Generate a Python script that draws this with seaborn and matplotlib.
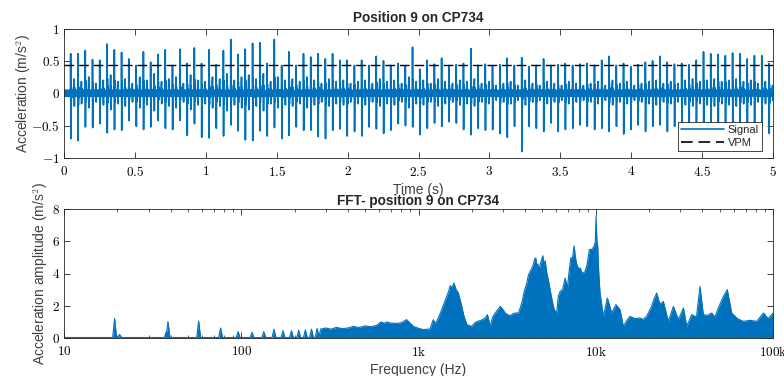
import numpy as np
import pandas as pd
import seaborn as sns
import matplotlib
matplotlib.use("Agg")
import matplotlib.pyplot as plt
from matplotlib.ticker import FuncFormatter, LogLocator, NullFormatter

# ---------------- data ----------------
spike_t = [0.047, 0.098, 0.150, 0.201, 0.252, 0.304, 0.355, 0.406, 0.457, 0.509,
           0.560, 0.611, 0.663, 0.714, 0.765, 0.817, 0.868, 0.919, 0.970, 1.022,
           1.073, 1.124, 1.176, 1.227, 1.278, 1.330, 1.381, 1.432, 1.483, 1.535,
           1.586, 1.637, 1.689, 1.740, 1.791, 1.843, 1.894, 1.945, 1.996, 2.048,
           2.099, 2.150, 2.202, 2.253, 2.304, 2.356, 2.407, 2.458, 2.509, 2.561,
           2.612, 2.663, 2.715, 2.766, 2.817, 2.869, 2.920, 2.971, 3.022, 3.074,
           3.125, 3.176, 3.228, 3.279, 3.330, 3.382, 3.433, 3.484, 3.535, 3.587,
           3.638, 3.689, 3.741, 3.792, 3.843, 3.895, 3.946, 3.997, 4.048, 4.100,
           4.151, 4.202, 4.254, 4.305, 4.356, 4.408, 4.459, 4.510, 4.561, 4.613,
           4.664, 4.715, 4.767, 4.818, 4.869, 4.921, 4.972]
spike_pos = [0.61, 0.61, 0.66, 0.52, 0.51, 0.76, 0.67, 0.63, 0.53, 0.43,
             0.64, 0.48, 0.60, 0.67, 0.43, 0.68, 0.46, 0.70, 0.46, 0.67,
             0.44, 0.66, 0.83, 0.60, 0.68, 0.77, 0.78, 0.46, 0.83, 0.43,
             0.64, 0.43, 0.61, 0.56, 0.61, 0.53, 0.61, 0.51, 0.51, 0.43,
             0.51, 0.43, 0.57, 0.50, 0.43, 0.46, 0.43, 0.71, 0.37, 0.51,
             0.45, 0.54, 0.43, 0.44, 0.46, 0.69, 0.43, 0.45, 0.43, 0.44,
             0.54, 0.43, 0.55, 0.41, 0.43, 0.53, 0.43, 0.44, 0.46, 0.43,
             0.45, 0.46, 0.43, 0.51, 0.57, 0.43, 0.46, 0.41, 0.44, 0.48,
             0.50, 0.57, 0.48, 0.45, 0.46, 0.44, 0.51, 0.64, 0.61, 0.60,
             0.58, 0.62, 0.61, 0.53, 0.58, 0.58, 0.46]
spike_neg = [0.70, 0.73, 0.52, 0.53, 0.47, 0.61, 0.56, 0.57, 0.42, 0.51,
             0.56, 0.52, 0.42, 0.54, 0.56, 0.42, 0.65, 0.47, 0.68, 0.69,
             0.54, 0.66, 0.49, 0.58, 0.72, 0.73, 0.58, 0.66, 0.53, 0.70,
             0.65, 0.52, 0.57, 0.57, 0.67, 0.70, 0.57, 0.55, 0.66, 0.59,
             0.66, 0.52, 0.55, 0.62, 0.57, 0.47, 0.50, 0.52, 0.64, 0.54,
             0.46, 0.51, 0.44, 0.46, 0.56, 0.64, 0.54, 0.57, 0.56, 0.62,
             0.68, 0.51, 0.90, 0.51, 0.54, 0.59, 0.46, 0.59, 0.56, 0.54,
             0.49, 0.51, 0.56, 0.54, 0.59, 0.51, 0.63, 0.56, 0.49, 0.59,
             0.51, 0.49, 0.59, 0.51, 0.46, 0.54, 0.51, 0.49, 0.54, 0.51,
             0.56, 0.54, 0.59, 0.54, 0.59, 0.50, 0.62]
mid_burst = [0.22, 0.18, 0.25, 0.15, 0.20, 0.28, 0.18, 0.22, 0.15, 0.25,
             0.20, 0.30, 0.18, 0.22, 0.25, 0.15, 0.28, 0.20, 0.18, 0.25,
             0.22, 0.30, 0.20, 0.25, 0.28, 0.22, 0.30, 0.18, 0.25, 0.20,
             0.22, 0.18, 0.25, 0.20, 0.15, 0.22, 0.18, 0.20, 0.15, 0.18,
             0.20, 0.15, 0.22, 0.18, 0.20, 0.15, 0.25, 0.18, 0.20, 0.15,
             0.22, 0.18, 0.15, 0.20, 0.18, 0.22, 0.15, 0.18, 0.12, 0.15,
             0.18, 0.12, 0.20, 0.15, 0.12, 0.18, 0.15, 0.12, 0.18, 0.15,
             0.12, 0.15, 0.18, 0.12, 0.20, 0.15, 0.18, 0.12, 0.15, 0.18,
             0.20, 0.15, 0.18, 0.15, 0.20, 0.22, 0.18, 0.20, 0.22, 0.18,
             0.20, 0.22, 0.18, 0.20, 0.15, 0.18, 0.12]
ripple = [0.04, -0.05, 0.045, -0.035, 0.05, -0.045, 0.035, -0.04, 0.05, -0.05, 0.04, -0.035]
ring_shape = [0.30, -0.25, 0.15, -0.10]
vpm_level = 0.43

harm_f = [19.3, 20.6, 37.8, 38.6, 57.5, 76.5, 96, 115, 134, 153, 172, 192, 211, 230, 249, 268]
harm_a = [1.22, 0.22, 0.40, 1.02, 1.05, 0.62, 0.40, 0.35, 0.40, 0.55, 0.45, 0.45, 0.48, 0.50, 0.55, 0.60]
env_f = [280, 300, 320, 345, 370, 400, 430, 460, 500, 540, 580, 614, 640, 665, 690, 753, 800, 857, 900, 935,
         1000, 1064, 1161, 1212, 1240, 1265, 1300, 1352, 1400, 1444, 1480, 1508, 1545, 1585, 1630, 1679, 1715,
         1754, 1800, 1874, 2000, 2080, 2153, 2260, 2378, 2450, 2537, 2620, 2707, 2800, 2890, 2980, 3084, 3180,
         3291, 3400, 3512, 3667, 3828, 3950, 4084, 4170, 4262, 4350, 4450, 4520, 4590, 4650, 4720, 4794, 4900,
         5031, 5100, 5180, 5295, 5400, 5530, 5680, 5830, 6026, 6150, 6295, 6500, 6718, 6924, 7050, 7230, 7400,
         7550, 7680, 7815, 8000, 8162, 8400, 8710, 8950, 9204, 9500, 9779, 9950, 10040, 10150, 10260, 10400,
         10570, 11040, 11630, 12300, 13010, 13700, 14310, 15000, 15600, 16700, 17770, 18500, 19370, 20660,
         21300, 22060, 23000, 24060, 25690, 27420, 29260, 31230, 32600, 34780, 37000, 38730, 40450, 42500,
         45080, 47000, 49150, 52480, 55210, 58450, 63000, 68080, 74000, 80910, 88310, 94000, 100000]
env_a = [0.55, 0.62, 0.55, 0.66, 0.58, 0.62, 0.72, 0.65, 0.75, 0.70, 0.78, 1.00, 0.92, 1.00, 0.93, 0.90, 0.95,
         1.14, 0.90, 0.72, 0.60, 0.52, 0.56, 1.14, 0.90, 1.03, 1.30, 1.76, 2.20, 2.58, 2.90, 3.24, 3.15, 3.41,
         3.00, 2.79, 2.40, 1.96, 1.40, 0.83, 0.72, 0.95, 1.03, 1.10, 1.24, 1.45, 0.72, 1.30, 1.55, 1.75, 1.96,
         1.80, 1.55, 1.45, 1.38, 1.50, 1.55, 1.55, 2.17, 2.90, 3.41, 3.90, 4.13, 4.30, 4.60, 4.90, 4.96, 4.40,
         4.60, 4.24, 4.70, 5.10, 4.50, 4.80, 4.03, 3.60, 3.00, 2.30, 1.76, 1.55, 2.60, 2.89, 3.00, 3.72, 3.10,
         4.00, 4.96, 5.00, 5.72, 5.00, 4.55, 4.30, 4.34, 4.00, 4.13, 4.60, 5.48, 5.50, 5.68, 6.00, 7.58, 6.00,
         5.68, 4.00, 2.79, 1.34, 2.48, 1.55, 2.07, 1.76, 0.72, 1.10, 1.34, 1.20, 1.24, 1.15, 1.34, 1.96, 2.40,
         2.79, 2.10, 2.27, 1.03, 1.96, 1.14, 1.86, 0.72, 1.45, 1.30, 3.20, 1.45, 1.40, 1.55, 1.30, 1.86, 2.58,
         3.00, 1.55, 1.20, 1.03, 1.10, 1.03, 1.55, 1.20, 1.55]
assert len(env_f) == len(env_a)
assert len(spike_t) == len(spike_pos) == len(spike_neg) == len(mid_burst)
assert len(harm_f) == len(harm_a)

# ---------------- build the drawn series ----------------
ts, ys = [], []
ri = 0
for k, t in enumerate(spike_t):
    if k == 0:
        for j in range(18):
            ts.append(0.002 + 0.0025 * j)
            ys.append(ripple[ri % len(ripple)]); ri += 1
    ts += [t - 0.0008, t, t + 0.0012]
    ys += [ripple[ri % len(ripple)], spike_pos[k], -spike_neg[k]]
    ri += 1
    for j, r in enumerate(ring_shape):
        ts.append(t + 0.0025 + 0.0013 * j)
        ys.append(r * (spike_pos[k] if r > 0 else spike_neg[k]))
    for j in range(6):
        ts.append(t + 0.009 + 0.0025 * j)
        ys.append(ripple[ri % len(ripple)]); ri += 1
    ts += [t + 0.025, t + 0.0262, t + 0.0275]
    ys += [mid_burst[k], -0.9 * mid_burst[k], 0.4 * mid_burst[k]]
    for j in range(8):
        tt = t + 0.030 + 0.0025 * j
        if tt > 5.0:
            break
        ts.append(tt)
        ys.append(ripple[ri % len(ripple)]); ri += 1
sig = pd.DataFrame({"t": ts, "a": ys})

ff, fa = [10.0], [0.03]
for f, a in zip(harm_f, harm_a):
    ff += [f * 0.975, f, f * 1.025]
    fa += [0.03, a, 0.03]
ff += env_f
fa += env_a
fft = pd.DataFrame({"f": ff, "a": fa})

# ---------------- style ----------------
sns.set_style("ticks")
plt.rcParams['font.family'] = ['Liberation Sans', 'DejaVu Sans']
plt.rcParams['mathtext.fontset'] = 'cm'
BLUE = '#0072BD'
AXC = '#262626'
LBLC = '#404040'

fig = plt.figure(figsize=(7.84, 3.76), dpi=100)
ax1 = fig.add_axes([64 / 784, 1 - 158 / 376, 709 / 784, 129.5 / 376])
ax2 = fig.add_axes([64 / 784, 1 - 338 / 376, 709 / 784, 129 / 376])

sns.lineplot(data=sig, x="t", y="a", ax=ax1, color=BLUE, lw=1.2, sort=False,
             estimator=None, label="Signal")
ax1.plot([0, 5], [vpm_level, vpm_level], color='black', lw=1.0, dashes=(7, 3.5), label="VPM", zorder=5)
ax1.set_xlim(0, 5)
ax1.set_ylim(-1, 1)
ax1.set_xticks(np.arange(0, 5.01, 0.5))
ax1.set_yticks([-1, -0.5, 0, 0.5, 1])
mfmt = FuncFormatter(lambda v, p: f"${v:g}$")
ax1.xaxis.set_major_formatter(mfmt)
ax1.yaxis.set_major_formatter(mfmt)
ax1.set_xlabel("Time (s)", fontsize=10, color=LBLC, labelpad=3)
ax1.set_ylabel("Acceleration (m/s$^\\mathsf{2}$)", fontsize=10, color=LBLC)
ax1.yaxis.set_label_coords(-0.044, 0.5)
ax1.set_title("Position 9 on CP734", fontsize=9.8, fontweight='bold', pad=5)
leg = ax1.legend(loc='lower right', bbox_to_anchor=(0.9845, 0.054), borderaxespad=0,
                 fancybox=False, edgecolor=AXC, framealpha=1, fontsize=8,
                 handlelength=3.9, borderpad=0.3, labelspacing=0.25, handletextpad=0.3)
leg.get_frame().set_linewidth(0.6)
for ln in leg.get_lines():
    ln.set_linewidth(1.2)

ax2.fill_between(fft["f"], 0, fft["a"], color=BLUE, lw=0)
sns.lineplot(data=fft, x="f", y="a", ax=ax2, color=BLUE, lw=0.8, sort=False, estimator=None)
ax2.set_xscale('log')
ax2.set_xlim(10, 1e5)
ax2.set_ylim(0, 8)
ax2.set_xticks([10, 100, 1e3, 1e4, 1e5])
ax2.set_xticklabels(['$10$', '$100$', '$1\\mathrm{k}$', '$10\\mathrm{k}$', '$100\\mathrm{k}$'])
ax2.xaxis.set_minor_locator(LogLocator(base=10, subs=np.arange(2, 10), numticks=20))
ax2.xaxis.set_minor_formatter(NullFormatter())
ax2.set_yticks([0, 2, 4, 6, 8])
ax2.yaxis.set_major_formatter(mfmt)
ax2.set_xlabel("Frequency (Hz)", fontsize=10, color=LBLC, labelpad=3)
ax2.set_ylabel("Acceleration amplitude (m/s$^\\mathsf{2}$)", fontsize=10, color=LBLC)
ax2.yaxis.set_label_coords(-0.020, 0.5)
ax2.set_title("FFT- position 9 on CP734", fontsize=9.8, fontweight='bold', pad=3)

for ax in (ax1, ax2):
    ax.tick_params(which='major', direction='in', length=4, width=0.6, top=True, right=True,
                   color=AXC, labelcolor='black', labelsize=9.5)
    ax.tick_params(axis='x', which='major', pad=5)
    ax.tick_params(axis='y', which='major', pad=3)
    ax.tick_params(which='minor', direction='in', length=2.5, width=0.5, top=True, right=True, color=AXC)
    for s in ax.spines.values():
        s.set_linewidth(0.6)
        s.set_color(AXC)
    ax.grid(False)

fig.savefig("out.png", dpi=100)
